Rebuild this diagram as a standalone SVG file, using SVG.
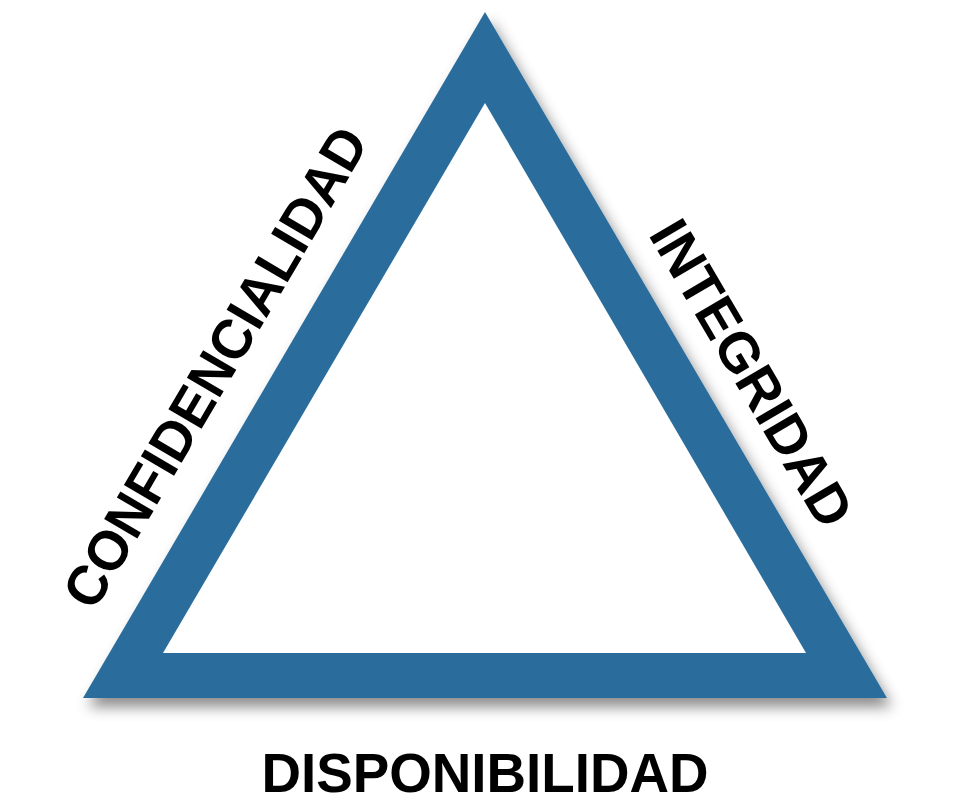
<svg xmlns="http://www.w3.org/2000/svg" width="969" height="812" viewBox="0 0 969 812">
<defs>
<filter id="shadow" x="-10%" y="-10%" width="130%" height="130%">
<feDropShadow dx="5" dy="9" stdDeviation="7" flood-color="#000" flood-opacity="0.45"/>
</filter>
</defs>
<style>
.lbl{font-family:"Liberation Sans",Arial,sans-serif;font-weight:bold;font-size:56px;fill:#000;text-anchor:middle}
</style>
<rect width="969" height="812" fill="#fff"/>
<g id="triangle">
<polygon points="485,12 83,698 887,698" fill="#2a6d9d" filter="url(#shadow)"/>
<polygon points="485,103 163,653 806,653" fill="#fff"/>
</g>
<g id="connectors"></g>
<g id="confidencialidad">
<text class="lbl" transform="translate(232,377) rotate(-59.63)" textLength="546" lengthAdjust="spacingAndGlyphs">CONFIDENCIALIDAD</text>
</g>
<g id="integridad">
<text class="lbl" transform="translate(735,383) rotate(59.63)" textLength="345" lengthAdjust="spacingAndGlyphs">INTEGRIDAD</text>
</g>
<g id="disponibilidad">
<text class="lbl" x="485" y="792" textLength="447" lengthAdjust="spacingAndGlyphs">DISPONIBILIDAD</text>
</g>
</svg>
